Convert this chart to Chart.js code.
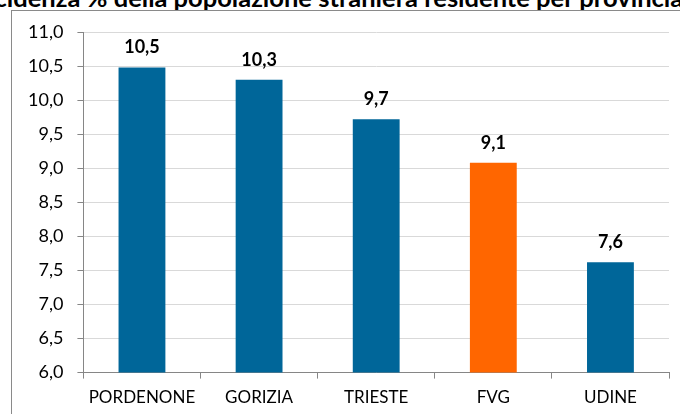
<!DOCTYPE html>
<html>
<head>
<meta charset="utf-8">
<script src="https://cdn.jsdelivr.net/npm/chart.js@4.4.1/dist/chart.umd.min.js"></script>
<style>
  html, body { margin: 0; padding: 0; background: #fff; }
  body { width: 680px; height: 414px; position: relative; overflow: hidden; }
  #title {
    position: absolute; left: -62px; width: 780px; top: -18px;
    text-align: center; white-space: nowrap;
    font: bold 25.5px Lato, sans-serif; color: #000;
  }
  #frame {
    position: absolute; left: 11px; top: 10px; width: 720px; height: 440px;
    border: 1px solid #8a8a8a;
  }
  #wrap { position: absolute; left: 0; top: 0; width: 680px; height: 423px; }
</style>
</head>
<body>
<div id="title">Incidenza % della popolazione straniera residente per provincia</div>
<div id="frame"></div>
<div id="wrap"><canvas id="chart"></canvas></div>
<script>
// ---- data ----
const provinces = ['PORDENONE', 'GORIZIA', 'TRIESTE', 'FVG', 'UDINE'];
const incidence = [10.48, 10.30, 9.72, 9.08, 7.62];
const barColors = ['#006699', '#006699', '#006699', '#FF6600', '#006699'];
const yMin = 6.0;
const yMax = 11.0;
const yStep = 0.5;

const fmt = v => v.toFixed(1).replace('.', ',');

// value labels above the bars
const valueLabels = {
    id: 'valueLabels',
    afterDatasetsDraw(chart) {
        const ctx = chart.ctx;
        const meta = chart.getDatasetMeta(0);
        ctx.save();
        ctx.font = 'bold 18px Lato, sans-serif';
        ctx.fillStyle = '#000';
        ctx.textAlign = 'center';
        ctx.textBaseline = 'alphabetic';
        meta.data.forEach((bar, i) => {
            ctx.fillText(fmt(incidence[i]), bar.x, bar.y - 14);
        });
        ctx.restore();
    }
};

new Chart(document.getElementById('chart'), {
    type: 'bar',
    data: {
        labels: provinces,
        datasets: [{
            data: incidence,
            backgroundColor: barColors,
            borderWidth: 0,
            categoryPercentage: 1.0,
            barPercentage: 0.4
        }]
    },
    options: {
        responsive: true,
        maintainAspectRatio: false,
        animation: false,
        layout: { padding: { left: 14, right: 11, top: 32, bottom: 6 } },
        plugins: { legend: { display: false }, tooltip: { enabled: false }, title: { display: false } },
        scales: {
            x: {
                offset: true,
                grid: { display: true, drawOnChartArea: false, offset: true, tickLength: 6, tickColor: '#868686', color: '#868686' },
                border: { color: '#868686', width: 1 },
                ticks: { color: '#000', font: { family: 'Lato', size: 17 }, padding: 9, maxRotation: 0 }
            },
            y: {
                min: yMin,
                max: yMax,
                grid: { color: '#d9d9d9', tickLength: 6, tickColor: '#868686' },
                border: { color: '#868686', width: 1 },
                ticks: {
                    stepSize: yStep,
                    color: '#000',
                    font: { family: 'Lato', size: 18 },
                    padding: 14,
                    callback: v => fmt(v)
                }
            }
        }
    },
    plugins: [valueLabels]
});
</script>
</body>
</html>
